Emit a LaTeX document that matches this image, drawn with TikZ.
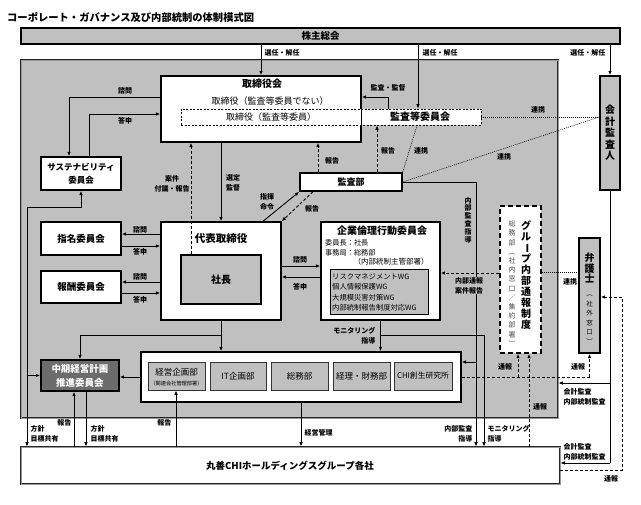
\documentclass[tikz,border=0pt]{standalone}
\usepackage{fontspec}
\setmainfont{Noto Sans CJK JP}
\usetikzlibrary{arrows.meta,calc}
\definecolor{bg}{RGB}{192,192,192}
\definecolor{dk}{RGB}{108,108,108}
\newcommand{\fsz}[1]{\fontsize{#1}{#1}\selectfont}
\newcommand{\rt}[1]{\rotatebox[origin=c]{-90}{#1}}
\newcommand{\nolsk}{\lineskiplimit=-20pt\relax}
\begin{document}
\begin{tikzpicture}[x=1pt,y=-1pt,
  box/.style={draw,line width=1.4pt,fill=white,inner sep=0},
  gbox/.style={box,fill=bg},
  dbox/.style={draw=black!80,line width=0.8pt,fill=bg,inner sep=0,align=center},
  lbl/.style={font=\fontsize{7}{10}\selectfont\bfseries,inner sep=0.5pt,align=center},
  arr/.style={line width=0.9pt,-{Latex[length=4.5pt,width=3.6pt]}},
  ln/.style={line width=0.9pt},
  dsh/.style={dash pattern=on 3pt off 2pt},
  dotl/.style={line width=0.6pt,dash pattern=on 1pt off 1pt},
  dbl/.style={draw=black!85,line width=0.7pt,double=black!40,double distance=0.9pt,inner sep=0},
  vt/.style={inner sep=0,align=center}
]
\useasboundingbox (0,0) rectangle (641,505);
% frame and title
\node[draw=black!75,line width=0.7pt,double=white,double distance=1.2pt,minimum width=629pt,minimum height=494pt,inner sep=0] (frame) at (319.5,252) {};
\node[anchor=west,inner sep=0,font=\fontsize{10.3}{12}\selectfont\bfseries] (title) at (7,17) {コーポレート・ガバナンス及び内部統制の体制模式図};
\node[gbox,minimum width=599pt,minimum height=16pt,font=\fsz{9.5}\bfseries] (sh) at (320.5,36) {株主総会};
% big regions
\node[dbl,fill=bg,minimum width=537pt,minimum height=358pt] (board) at (289.5,239) {};
\node[dbl,fill=white,minimum width=539pt,minimum height=37pt] (mc) at (290.5,465.5) {};
\node[font=\fsz{9.5}\bfseries,inner sep=0] (mct) at (290,466) {丸善CHIホールディングスグループ各社};
% board of directors
\node[box,minimum width=200pt,minimum height=66pt] (bod) at (261,109) {};
\node[draw,line width=0.7pt,dash pattern=on 2pt off 1.5pt,fill=white,minimum width=300pt,minimum height=16pt,inner sep=0] (ac) at (331,117) {};
\draw[line width=1.4pt] (bod.north west) rectangle (bod.south east);
\node[font=\fsz{10}\bfseries,inner sep=0] (bodt) at (262,84) {取締役会};
\node[font=\fsz{9},inner sep=0] (bod1) at (270,101) {取締役（監査等委員でない）};
\node[font=\fsz{9},inner sep=0] (bod2) at (271,117) {取締役（監査等委員）};
\node[font=\fsz{10}\bfseries,inner sep=0] (act) at (420,117) {監査等委員会};
% accounting auditor
\node[gbox,minimum width=20pt,minimum height=114pt] (kai) at (610,133) {};
\node[vt,font=\fontsize{10}{11.5}\selectfont\bfseries] (kait) at (610,133) {会\\計\\監\\査\\人};
% audit dept
\node[box,minimum width=102pt,minimum height=18pt,font=\fsz{9}\bfseries] (audit) at (351,182) {監査部};
% representative director
\node[box,minimum width=120pt,minimum height=98pt] (rep) at (221,271) {};
\node[font=\fsz{10.5}\bfseries,inner sep=0] (rept) at (221,239) {代表取締役};
\node[gbox,minimum width=80pt,minimum height=49pt,font=\fsz{10}\bfseries] (pres) at (221,279.5) {社長};
% ethics committee
\node[box,minimum width=119pt,minimum height=98pt] (ethics) at (380.5,271) {};
\node[font=\fsz{10}\bfseries,inner sep=0] (etht) at (382,231) {企業倫理行動委員会};
\node[anchor=west,font=\fsz{7.2},inner sep=0] (eth1) at (325,243) {委員長：社長};
\node[anchor=west,font=\fsz{7.2},inner sep=0] (eth2) at (325,253) {事務局：総務部};
\node[font=\fsz{7.5},inner sep=0] (eth3) at (391,262) {（内部統制主管部署）};
\node[draw,line width=1pt,fill=bg,minimum width=98pt,minimum height=45pt,inner sep=0] (wg) at (379,292.5) {};
\node[anchor=west,align=left,font=\fontsize{7.3}{10.3}\selectfont,inner sep=0] (wgt) at (332,292.5) {リスクマネジメントWG\\個人情報保護WG\\大規模災害対策WG\\内部統制報告制度対応WG};
% committees
\node[box,minimum width=80pt,minimum height=33pt,font=\fsz{9.5}\bfseries] (nom) at (81,238.5) {指名委員会};
\node[box,minimum width=80pt,minimum height=32pt,font=\fsz{9.5}\bfseries] (rem) at (81,287) {報酬委員会};
\node[box,minimum width=80pt,minimum height=33pt,align=center,font=\fontsize{8.5}{13}\selectfont\bfseries] (sus) at (81,173.5) {サステナビリティ\\委員会};
\node[draw,line width=1.4pt,fill=dk,minimum width=78pt,minimum height=31pt,inner sep=0,text=white,align=center,font=\fontsize{9.5}{14}\selectfont\bfseries] (mid) at (80,375.5) {中期経営計画\\推進委員会};
% departments
\node[box,minimum width=320pt,minimum height=50pt] (grp) at (301,377) {};
\node[dbox,minimum width=57pt,minimum height=28pt] (d1) at (176.5,376) {};
\node[font=\fsz{8.5},inner sep=0] (d1a) at (176.5,372.5) {経営企画部};
\node[font=\fsz{5.2},inner sep=0] (d1b) at (176.5,384) {（関連会社管理部署）};
\node[dbox,minimum width=56pt,minimum height=28pt,font=\fsz{8.5}] (d2) at (238,376) {IT企画部};
\node[dbox,minimum width=57pt,minimum height=28pt,font=\fsz{8.5}] (d3) at (299.5,376) {総務部};
\node[dbox,minimum width=57pt,minimum height=28pt,font=\fsz{8.5}] (d4) at (361.5,376) {経理・財務部};
\node[dbox,minimum width=58pt,minimum height=28pt,font=\fsz{7.8}] (d5) at (423,376) {CHI創生研究所};
% group whistleblowing
\node[draw,line width=1.5pt,dash pattern=on 5pt off 3pt,fill=white,minimum width=41pt,minimum height=147pt,inner sep=0] (grw) at (520.5,279.5) {};
\node[vt,font={\fontsize{10}{11}\selectfont\bfseries\nolsk}] (grwt) at (526,275) {グ\\ル\\\rt{ー}\\プ\\内\\部\\通\\報\\制\\度};
\node[vt,text=black!70,font={\fontsize{7}{9.2}\selectfont\nolsk}] (grws) at (512,284) {総\\務\\部\\\rt{（}\\社\\内\\窓\\口\\／\\集\\約\\部\\署\\\rt{）}};
% lawyer
\node[gbox,minimum width=21pt,minimum height=115pt] (law) at (589.5,295.5) {};
\node[vt,font={\fontsize{10}{10.5}\selectfont\bfseries\nolsk}] (lawt) at (589.5,268) {弁\\護\\士};
\node[vt,font={\fontsize{6.5}{9.5}\selectfont\nolsk}] (laws) at (589.5,318) {\rt{（}\\社\\外\\窓\\口\\\rt{）}};

% ---------- connectors ----------
\coordinate (xa) at (418,0);
\draw[arr] (sh.south -| bod.north) -- (bod.north);
\draw[arr] (sh.south -| xa) -- (xa |- ac.north);
\draw[arr] (sh.south -| kai.north) -- (kai.north);
\coordinate (xb) at (388,97);
\draw[arr] (xb |- ac.north) -- (xb) -- (xb -| bod.east);
\draw[dotl] (ac.east) -- (ac.east -| kai.west);
\draw[dotl] (audit.east) -- (ac.east -| kai.west);
\draw[dotl] ([xshift=86pt]ac.south) -- (audit.north east);
\coordinate (xc) at (377,0);
\draw[arr,dsh] (xc |- audit.north) -- (xc |- ac.south);
\coordinate (xd) at (318,0);
\draw[arr,dsh] (xd |- audit.north) -- (xd |- bod.south);
\coordinate (xe) at (191,0);
\draw[arr,dsh] (xe |- pres.north) -- (xe |- bod.south);
\draw[arr] (bod.south -| rep.north) -- (rep.north);
\draw[arr] ([xshift=42pt]rep.north) -- (audit.south west);
\draw[arr,dsh] ([xshift=-38pt]audit.south) -- (rep.north east);
% ethics consult
\coordinate (ya) at (0,266); \coordinate (yb) at (0,277);
\draw[arr] (rep.east |- ya) -- (ethics.west |- ya);
\draw[arr] (ethics.west |- yb) -- (rep.east |- yb);
% nomination / remuneration
\coordinate (n1) at (0,234); \coordinate (n2) at (0,246);
\coordinate (n3) at (0,282); \coordinate (n4) at (0,293);
\draw[arr] (rep.west |- n1) -- (nom.east |- n1);
\draw[arr] (nom.east |- n2) -- (rep.west |- n2);
\draw[arr] (rep.west |- n3) -- (rem.east |- n3);
\draw[arr] (rem.east |- n4) -- (rep.west |- n4);
% sustainability
\coordinate (p1) at (69,97);
\draw[arr] (bod.west |- p1) -- (p1) -- (p1 |- sus.north);
\coordinate (p2) at (89,114);
\draw[arr] (p2 |- sus.north) -- (p2) -- (p2 -| bod.west);
% left bus
\coordinate (b1) at (27,207);
\draw[arr] (b1) -- (b1 -| sus.south) -- (sus.south);
\draw[arr] (b1) -- (b1 |- mc.north);
\draw[arr] (b1 |- mid.west) -- (mid.west);
% from representative director down
\coordinate (r1) at (221,335);
\draw[arr] (rep.south) -- (rep.south |- grp.north);
\draw[arr] (r1) -- (r1 -| mid.north) -- (mid.north);
\draw[arr] (grp.west) -- (grp.west -| mid.east);
% ethics down
\coordinate (e1) at (380.5,335); \coordinate (e2) at (484,335);
\draw[arr] (ethics.south) -- (ethics.south |- grp.north);
\draw[arr] (e1) -- (e2) -- (e2 |- mc.north);
% internal audit
\coordinate (a1) at (476,182); \coordinate (a2) at (476,362);
\draw[arr] (audit.east) -- (a1) -- (a1 |- mc.north);
\draw[arr] (a2) -- (a2 -| grp.east);
% whistleblowing report
\coordinate (ya3) at (0,273); \coordinate (ya4) at (0,272);
\draw[arr,dsh] (grw.west |- ya3) -- (ethics.east |- ya3);
\draw[dotl] (grw.east |- ya4) -- (law.west |- ya4);
% accounting audit
\coordinate (k1) at (610,383); \coordinate (k2) at (610,463);
\draw[line width=0.8pt] (kai.south) -- (k2);
\draw[arr] (k1) -- (k1 -| board.east);
\draw[arr] (k2) -- (k2 -| mc.east);
% reports (通報)
\coordinate (t1) at (518,377); \coordinate (t2) at (589.5,377);
\draw[ln,dsh] (grp.east |- t1) -- (t2);
\draw[arr,dsh] (t1) -- (t1 |- grw.south);
\draw[arr,dsh] (t2) -- (t2 |- law.south);
\coordinate (t3) at (529,0);
\draw[arr,dsh] (t3 |- mc.north) -- (t3 |- grw.south);
\coordinate (t4) at (622,470); \coordinate (t5) at (622,297);
\draw[arr,dsh] (mc.east |- t4) -- (t4) -- (t5) -- (t5 -| law.east);
% bottom
\coordinate (m1) at (74,0); \coordinate (m2) at (86,0); \coordinate (m3) at (176,0);
\draw[arr] (m1 |- mc.north) -- (m1 |- mid.south);
\draw[arr] (m2 |- mid.south) -- (m2 |- mc.north);
\draw[arr] (m3 |- mc.north) -- (m3 |- d1.south);
\draw[arr] (grp.south) -- (grp.south |- mc.north);

% ---------- labels ----------
\node[lbl,anchor=west] (l1) at (264,53) {選任・解任};
\node[lbl,anchor=west] (l2) at (422,53) {選任・解任};
\node[lbl,anchor=east] (l3) at (606,53) {選任・解任};
\node[lbl] (l4) at (388,88) {監査・監督};
\node[lbl] (l5) at (538,110) {連携};
\node[lbl] (l6) at (504,157) {連携};
\node[lbl] (l7) at (421,151) {連携};
\node[lbl] (l8) at (570,282) {連携};
\node[lbl] (l9) at (388,151) {報告};
\node[lbl] (l10) at (332,161) {報告};
\node[lbl] (l11) at (125,91) {諮問};
\node[lbl] (l12) at (125,121) {答申};
\node[lbl] (l13) at (172,184) {案件\\付議・報告};
\node[lbl] (l14) at (233,183) {選定\\監督};
\node[lbl] (l15) at (267,202) {指揮\\命令};
\node[lbl] (l16) at (312,209) {報告};
\node[lbl] (l17) at (300,260) {諮問};
\node[lbl] (l18) at (300,287) {答申};
\node[lbl] (l19) at (140,230) {諮問};
\node[lbl] (l20) at (140,252) {答申};
\node[lbl] (l21) at (140,277) {諮問};
\node[lbl] (l22) at (140,300) {答申};
\node[lbl,anchor=east,align=right] (l23) at (376,336) {モニタリング\\指導};
\node[vt,font={\fontsize{7}{7.8}\selectfont\bfseries\nolsk}] (l24) at (468,220) {内\\部\\監\\査\\指\\導};
\node[lbl,fill=bg] (l25) at (469,285.5) {内部通報\\案件報告};
\node[lbl] (l26) at (505,367) {通報};
\node[lbl] (l27) at (578,367) {通報};
\node[lbl] (l28) at (540,407) {通報};
\node[lbl] (l29) at (611,479) {通報};
\node[lbl,anchor=west,align=left] (l30) at (563,397) {会計監査\\内部統制監査};
\node[lbl,anchor=west,align=left] (l31) at (563,452) {会計監査\\内部統制監査};
\node[lbl,anchor=east,align=right] (l32) at (473,433.5) {内部監査\\指導};
\node[lbl,anchor=west,align=left] (l33) at (487,433.5) {モニタリング\\指導};
\node[lbl,anchor=west,align=left] (l34) at (30,433.5) {方針\\目標共有};
\node[lbl,anchor=west,align=left] (l35) at (90,433.5) {方針\\目標共有};
\node[lbl,anchor=east] (l36) at (72,423) {報告};
\node[lbl,anchor=east] (l37) at (172,423) {報告};
\node[lbl,anchor=west] (l38) at (304,433) {経営管理};
\end{tikzpicture}
\end{document}
